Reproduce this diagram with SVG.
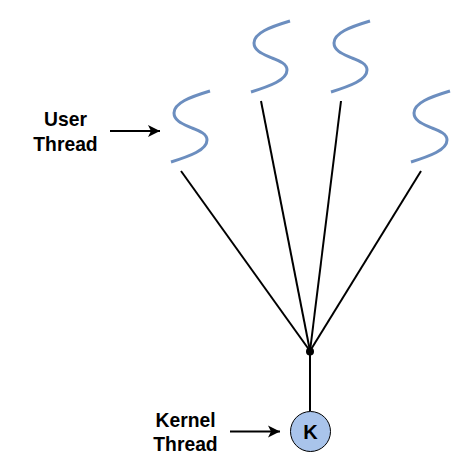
<svg xmlns="http://www.w3.org/2000/svg" width="473" height="476" viewBox="0 0 473 476">
<style>
.t{font-family:"Liberation Sans",Arial,sans-serif;font-size:19.300px;font-weight:bold;fill:#000;text-anchor:middle}
.s{fill:none;stroke:#6c8ebf;stroke-width:3}
.c{fill:none;stroke:#000;stroke-width:2}
</style>
<defs>
<path id="sq" class="s" d="M210 91C190 97 174 103 174 113C174 122 186 125 192 128C200 131 207 134 207 140C207 150 190 156 171 162"/>
<marker id="ah" markerUnits="userSpaceOnUse" markerWidth="14" markerHeight="14" refX="12" refY="7" orient="auto"><path d="M0 1L12 7L0 13L3 7Z" fill="#000"/></marker>
</defs>
<rect width="473" height="476" fill="#fff"/>
<g id="connectors">
<path class="c" d="M181 171L310 351"/>
<path class="c" d="M261 101L310 351"/>
<path class="c" d="M341 101L310 351"/>
<path class="c" d="M421 171L310 351"/>
<path class="c" d="M310 351.500V411"/>
<path class="c" d="M110 131H160" marker-end="url(#ah)"/>
<path class="c" d="M230 431.500H280" marker-end="url(#ah)"/>
</g>
<g id="thread1"><use href="#sq"/></g>
<g id="thread2"><use href="#sq" x="80" y="-70"/></g>
<g id="thread3"><use href="#sq" x="160" y="-70"/></g>
<g id="thread4"><use href="#sq" x="240"/></g>
<g id="junction"><circle cx="310" cy="351.500" r="4" fill="#000"/></g>
<g id="kernel"><circle cx="310.500" cy="431.500" r="20" fill="#a9c4eb" stroke="#000" stroke-width="1"/><text class="t" x="310.500" y="438.500" style="font-size:20px">K</text></g>
<g id="user-label"><text class="t" x="65.500" y="126">User</text><text class="t" x="65.500" y="151">Thread</text></g>
<g id="kernel-label"><text class="t" x="185.500" y="426.500">Kernel</text><text class="t" x="185.500" y="450.500">Thread</text></g>
</svg>
